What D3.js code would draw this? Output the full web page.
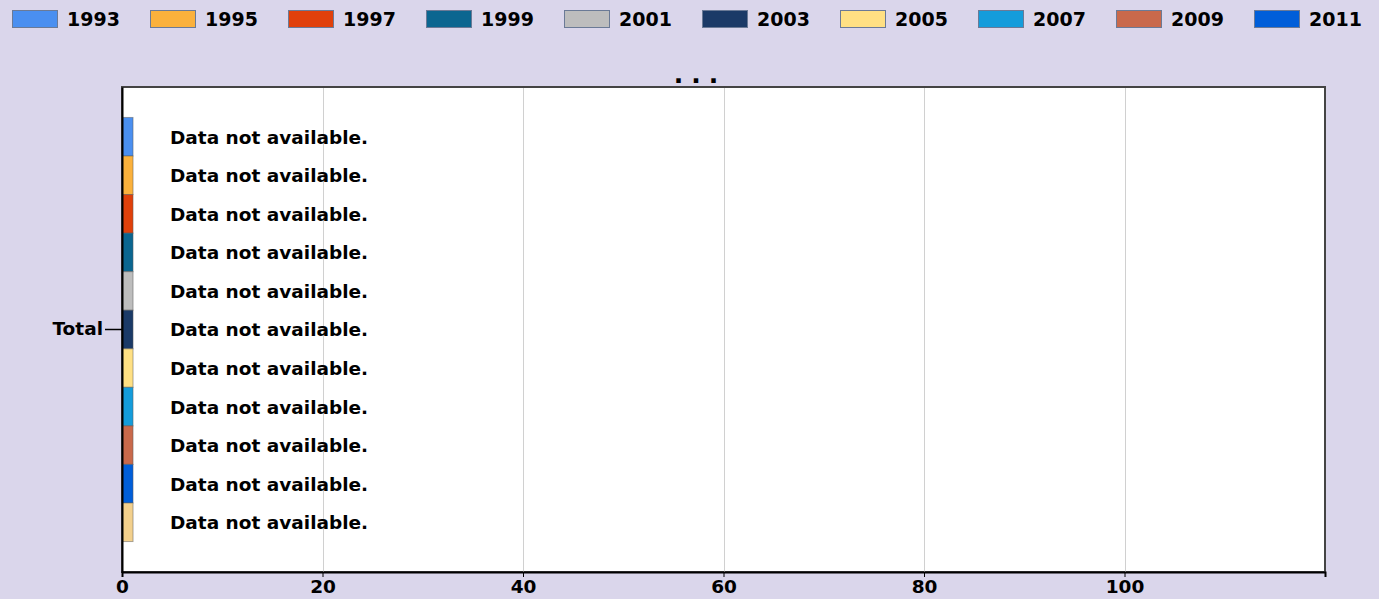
<!DOCTYPE html>
<html>
<head>
<meta charset="utf-8">
<script src="https://cdn.jsdelivr.net/npm/d3@7"></script>
<style>
  body { margin: 0; background: #dad6eb; }
  svg { display: block; font-family: "DejaVu Sans", Verdana, sans-serif; font-weight: bold; }
  .axis path, .axis line { stroke: #000; }
  .axis text { font-size: 18.5px; font-weight: bold; fill: #000; font-family: "DejaVu Sans", Verdana, sans-serif; }
</style>
</head>
<body>
<div id="chart"></div>
<script>
var width = 1379;
var height = 599;
var margin = {top: 87, left: 122, right: 54, bottom: 27};

var categories = ["Total"];
var years = ["1993","1995","1997","1999","2001","2003","2005","2007","2009","2011","2013"];
var colors = ["#4a8ff0","#fbb13c","#e0400b","#0b6690","#bdbdbd","#1b3a67","#ffe083","#149cdb","#c9694b","#005ed9","#f3d08c"];
// placeholder values drawn where no data is available
var values = [1.1,1.1,1.1,1.1,1.1,1.1,1.1,1.1,1.1,1.1,1.1];
var tickValues = [0,20,40,60,80,100];
var noData = "Data not available.";

var svg = d3.select("#chart")
  .append("svg")
  .attr("width", width)
  .attr("height", height);

// legend (entries that don't fit the width are dropped)
var legendStep = 138;
var legendItems = years.filter(function(d,i) { return 12 + i*legendStep + 110 < width; });

var legend = svg.selectAll(".legend")
  .data(legendItems)
  .enter()
  .append("g")
    .attr("class","legend")
    .attr("transform", function(d,i) { return `translate(${12 + i*legendStep},10)`; });

legend.append("rect")
  .attr("x",0.5)
  .attr("y",0.5)
  .attr("width",45)
  .attr("height",17)
  .attr("fill", function(d,i) { return colors[i]; })
  .attr("stroke","#6b7a96");

legend.append("text")
  .attr("x",55)
  .attr("y",15.5)
  .attr("font-size","19px")
  .text(function(d) { return d; });

var xScale = d3.scaleLinear()
  .domain([0,120])
  .range([margin.left, width-margin.right]);

var yScale = d3.scaleBand()
  .domain(categories)
  .range([margin.top, height-margin.bottom])
  .padding(0.067);

var inner = d3.scaleBand()
  .domain(years)
  .range([0, yScale.bandwidth()]);

// plot background
svg.append("rect")
  .attr("x", margin.left)
  .attr("y", margin.top)
  .attr("width", width-margin.right-margin.left)
  .attr("height", height-margin.bottom-margin.top)
  .attr("fill","#fff")
  .attr("stroke","#444")
  .attr("stroke-width",2);

// grid
svg.selectAll(".grid")
  .data(tickValues.slice(1))
  .enter()
  .append("line")
    .attr("x1", function(d) { return Math.round(xScale(d))+0.5; })
    .attr("x2", function(d) { return Math.round(xScale(d))+0.5; })
    .attr("y1", margin.top+1)
    .attr("y2", height-margin.bottom)
    .attr("stroke","#d0d0d0");

// title (truncated)
svg.append("text")
  .attr("x", 700)
  .attr("y", 83)
  .attr("text-anchor","middle")
  .attr("font-size","25px")
  .attr("letter-spacing","8px")
  .text("...");

// bars
var group = svg.selectAll(".cat")
  .data(categories)
  .enter()
  .append("g")
    .attr("transform", function(d) { return `translate(0,${yScale(d)})`; });

group.selectAll("rect")
  .data(years)
  .enter()
  .append("rect")
    .attr("x", xScale(0))
    .attr("y", function(d) { return inner(d); })
    .attr("width", function(d,i) { return xScale(values[i]) - xScale(0); })
    .attr("height", inner.bandwidth())
    .attr("fill", function(d,i) { return colors[i]; })
    .attr("stroke","rgba(90,90,90,0.5)");

group.selectAll(".na")
  .data(years)
  .enter()
  .append("text")
    .attr("class","na")
    .attr("x", 170)
    .attr("y", function(d) { return inner(d) + inner.bandwidth()/2 + 7; })
    .attr("font-size","18.5px")
    .text(noData);

// axes
svg.append("g")
  .attr("class","axis")
  .attr("transform",`translate(0,${height-margin.bottom})`)
  .call(d3.axisBottom(xScale).tickValues(tickValues).tickSize(5).tickSizeOuter(5).tickPadding(3))
  .call(function(g) { g.select(".domain").attr("stroke-width",2); });

svg.append("g")
  .attr("class","axis")
  .attr("transform",`translate(${margin.left},0)`)
  .call(d3.axisLeft(yScale).tickSize(17).tickSizeOuter(0).tickPadding(2))
  .call(function(g) {
    g.select(".domain").attr("stroke-width",2);
    g.selectAll(".tick line").attr("stroke-width",1.5);
  });
</script>
</body>
</html>
